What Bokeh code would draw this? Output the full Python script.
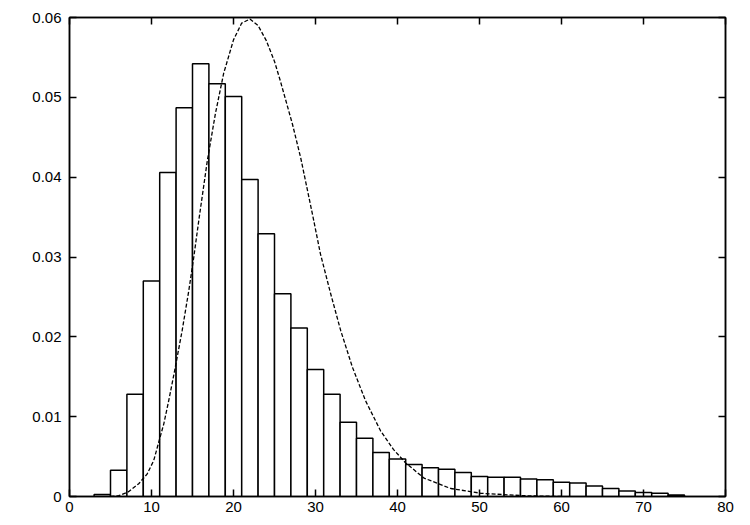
from bokeh.plotting import figure
from bokeh.models import Range1d, LinearAxis, FixedTicker
from bokeh.embed import file_html
from bokeh.resources import INLINE

# histogram: bin centres (bin width 2) and densities
bin_centers = [4, 6, 8, 10, 12, 14, 16, 18, 20, 22, 24, 26, 28, 30, 32, 34, 36, 38,
               40, 42, 44, 46, 48, 50, 52, 54, 56, 58, 60, 62, 64, 66, 68, 70, 72, 74]
bin_density = [0.00025, 0.0033, 0.0128, 0.0270, 0.0406, 0.0487, 0.0542, 0.0517, 0.0501,
               0.0397, 0.0329, 0.0254, 0.0211, 0.0159, 0.0128, 0.0093, 0.0073, 0.0055,
               0.0047, 0.0040, 0.0036, 0.0034, 0.0030, 0.0025, 0.0024, 0.0024, 0.0022,
               0.0021, 0.0018, 0.0017, 0.0013, 0.0010, 0.0007, 0.0005, 0.0004, 0.0002]
bin_width = 2

# dashed density curve
curve_x = [5.0, 6.0, 7.2, 8.44, 9.46, 10.27, 10.88, 11.5, 12.1, 12.83, 13.74, 14.55, 15.16,
           15.77, 16.8, 17.8, 18.8, 20.0, 21.0, 22.0, 23.0, 24.0, 25.0, 25.7, 27.2, 28.2,
           29.7, 30.6, 31.85, 33.07, 34.5, 36.1, 37.95, 39.5, 41.0, 43.25, 46.5, 50.2,
           55.4, 60.0]
curve_y = [0.0, 0.0001, 0.0006, 0.0016, 0.0028, 0.0045, 0.0068, 0.0091, 0.0120, 0.0158,
           0.0208, 0.0258, 0.0300, 0.0346, 0.0420, 0.0480, 0.0530, 0.0572, 0.0593, 0.0598,
           0.0590, 0.0571, 0.0545, 0.0521, 0.0466, 0.0424, 0.0350, 0.0304, 0.0254, 0.0208,
           0.0162, 0.0120, 0.0082, 0.0059, 0.0042, 0.0023, 0.0010, 0.0004, 0.0001, 0.0]

x_ticks = [0, 10, 20, 30, 40, 50, 60, 70, 80]
x_tick_labels = ["0", "10", "20", "30", "40", "50", "60", "70", "80"]
y_ticks = [0, 0.01, 0.02, 0.03, 0.04, 0.05, 0.06]
y_tick_labels = ["0", "0.01", "0.02", "0.03", "0.04", "0.05", "0.06"]

FONT = "Liberation Sans"

p = figure(width=742, height=518, output_backend="svg", toolbar_location=None,
           x_range=Range1d(0, 80), y_range=Range1d(0, 0.06),
           min_border_left=69, min_border_right=17, min_border_top=17, min_border_bottom=22)
p.xgrid.visible = False
p.ygrid.visible = False
p.background_fill_color = "white"
p.border_fill_color = "white"
p.outline_line_color = "black"
p.outline_line_width = 1.5

p.vbar(x=bin_centers, top=bin_density, width=bin_width, bottom=0,
       fill_color="white", line_color="black", line_width=1.5)
p.line(curve_x, curve_y, line_color="black", line_width=1.3, line_dash="4 2")


def style(ax, ticks, labels, show_labels):
    ax.ticker = FixedTicker(ticks=ticks)
    ax.major_label_overrides = {t: (l if show_labels else "") for t, l in zip(ticks, labels)}
    ax.minor_tick_line_color = None
    ax.major_tick_in = 7
    ax.major_tick_out = 0
    ax.major_tick_line_color = "black"
    ax.major_tick_line_width = 1.5
    ax.axis_line_color = "black"
    ax.axis_line_width = 1.5
    ax.major_label_text_font = FONT
    ax.major_label_text_font_size = "15px"
    ax.major_label_text_color = "black"


style(p.xaxis[0], x_ticks, x_tick_labels, True)
p.xaxis[0].major_label_standoff = 5
style(p.yaxis[0], y_ticks, y_tick_labels, True)
p.yaxis[0].major_label_standoff = 8

top_ax = LinearAxis()
style(top_ax, x_ticks, x_tick_labels, False)
top_ax.major_label_standoff = 0
top_ax.major_label_text_font_size = "1px"
p.add_layout(top_ax, "above")

right_ax = LinearAxis()
style(right_ax, y_ticks, y_tick_labels, False)
right_ax.major_label_standoff = 0
right_ax.major_label_text_font_size = "1px"
p.add_layout(right_ax, "right")

open("out.html", "w").write(file_html(p, INLINE))
